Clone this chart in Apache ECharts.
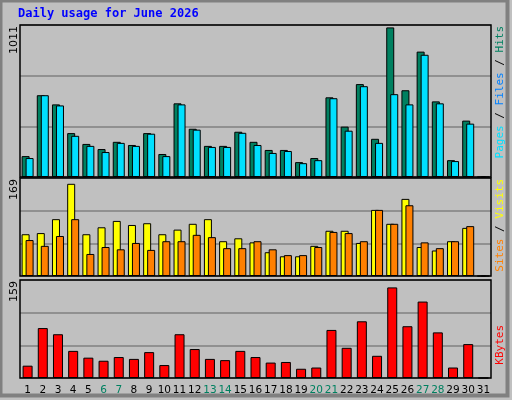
<!DOCTYPE html>
<html><head><meta charset="utf-8">
<script src="https://cdn.jsdelivr.net/npm/echarts@6/dist/echarts.min.js"></script>
<style>html,body{margin:0;padding:0;background:#c0c0c0}#c{width:512px;height:400px}</style>
</head><body><div id="c"></div>
<script>
const days = Array.from({length:31},(_,i)=>String(i+1));
const weekends = ['6','7','13','14','20','21','27','28'];
const hits  = [139,544,483,292,220,186,234,213,292,153,490,321,207,207,301,234,180,180,99,126,530,335,618,254,995,577,834,503,112,375,0];
const files = [126,544,476,274,207,166,227,207,288,139,483,315,200,200,294,213,160,173,92,112,524,308,604,227,551,483,813,490,106,355,0];
const visits= [72,74,98,159,72,84,95,88,91,72,80,90,98,60,65,58,41,34,34,52,78,78,57,114,90,133,50,44,60,83,0];
const sites = [62,52,69,98,38,50,46,57,45,60,60,71,67,48,48,60,46,36,36,50,76,74,60,114,90,122,58,48,60,86,0];
const kbytes= [20,81,71,44,33,28,34,31,42,21,71,47,31,29,44,34,25,26,15,17,78,49,92,36,147,84,124,74,17,55,0];
const maxHits = 1011, maxVisits = 169, maxKB = 159;

const L=20, W=471;
const grids=[{left:L,top:25,width:W,height:152},{left:L,top:178,width:W,height:98},{left:L,top:280,width:W,height:98}];
const mk = (i,show)=>({type:'category',gridIndex:i,data:days,boundaryGap:true,
  axisLine:{show:false},axisTick:{show:false},
  axisLabel:{show:show,interval:0,margin:7,fontFamily:'DejaVu Sans',fontSize:10.5,color:'#000',
    formatter:v=>weekends.includes(v)?'{w|'+v+'}':v, rich:{w:{color:'#008060',fontFamily:'DejaVu Sans',fontSize:10.5}}}});
const my = (i,m)=>({type:'value',gridIndex:i,min:0,max:m,interval:m/3,axisLabel:{show:false},
  axisLine:{show:false},splitLine:{lineStyle:{color:'#808080',width:1.5}}});
const bs = (name,data,xi,color,w,gap)=>({type:'bar',name,data,xAxisIndex:xi,yAxisIndex:xi,barWidth:w,barGap:gap,
  itemStyle:{color,borderColor:'#000',borderWidth:1},animation:false,silent:true});
const vtext=(x,y,parts)=>({type:'text',x,y,rotation:Math.PI/2,style:{text:parts.map(p=>'{'+p[1]+'|'+p[0]+'}').join(''),
  rich:Object.fromEntries(parts.map(p=>[p[1],{fill:p[2],fontFamily:'DejaVu Sans Mono',fontSize:11}])),align:'right',verticalAlign:'middle'}});
const ylab=(y,t)=>({type:'text',x:14,y,rotation:Math.PI/2,style:{text:t,fill:'#000',fontFamily:'DejaVu Sans',fontSize:11,align:'right',verticalAlign:'middle'}});
const panel=g=>({type:'rect',shape:{x:g.left,y:g.top,width:g.width,height:g.height},style:{fill:null,stroke:'#000',lineWidth:1.5},z:100});

const chart=echarts.init(document.getElementById('c'));
chart.setOption({
  backgroundColor:'#c0c0c0',animation:false,
  grid:grids,
  xAxis:[mk(0,false),mk(1,false),mk(2,true)],
  yAxis:[my(0,maxHits),my(1,maxVisits),my(2,maxKB)],
  series:[bs('Hits',hits,0,'#008060',8,'-50%'),bs('Files',files,0,'#00e0ff',8,'-50%'),
    bs('Visits',visits,1,'#ffff00',8,'-50%'),bs('Sites',sites,1,'#ff8000',8,'-50%'),
    bs('KBytes',kbytes,2,'#ff0000',10,'0%')],
  graphic:[
    {type:'rect',shape:{x:0.5,y:0.5,width:507,height:395},style:{fill:null,stroke:'#808080',lineWidth:4},z:-1},
    {type:'text',left:18,top:8,style:{text:'Daily usage for June 2026',fill:'#0000ff',fontFamily:'DejaVu Sans Mono',fontWeight:'bold',fontSize:12}},
    ...grids.map(panel),
    ylab(26,'1011'),ylab(179,'169'),ylab(281,'159'),
    vtext(500,26,[['Pages','p','#00e0ff'],[' / ','s','#000'],['Files','f','#0080ff'],[' / ','s2','#000'],['Hits','h','#008060']]),
    vtext(500,179,[['Sites','a','#ff8000'],[' / ','s','#000'],['Visits','v','#ffff00']]),
    vtext(500,325,[['KBytes','k','#ff0000']])
  ]
});
</script></body></html>
